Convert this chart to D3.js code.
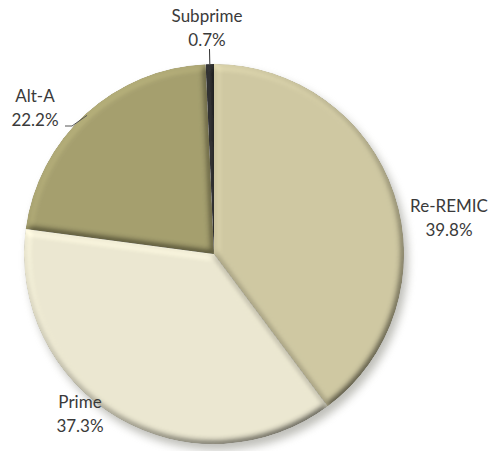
<!DOCTYPE html>
<html>
<head>
<meta charset="utf-8">
<script src="https://cdn.jsdelivr.net/npm/d3@7"></script>
<style>
  body { margin: 0; background: #fff; }
  text { font-family: Lato, "Open Sans", sans-serif; fill: #3a3a3a; }
</style>
</head>
<body>
<div id="chart"></div>
<script>
const categories = ["Re-REMIC", "Prime", "Alt-A", "Subprime"];
const shares = [39.8, 37.3, 22.2, 0.7];
const sliceColors = ["#cbc49d", "#e8e4cd", "#a09a66", "#111111"];

// label anchor points (text centre, first baseline) picked to match layout
const labelSpots = {
  "Re-REMIC": [449, 212],
  "Prime": [80, 408],
  "Alt-A": [35, 102],
  "Subprime": [207, 22]
};

const width = 492, height = 451;
const cx = 214, cy = 254, radius = 190;

const svg = d3.select("#chart")
  .append("svg")
  .attr("width", width)
  .attr("height", height);

const defs = svg.append("defs");

const shadow = defs.append("filter")
  .attr("id", "shadow")
  .attr("x", "-20%").attr("y", "-20%")
  .attr("width", "140%").attr("height", "140%");
shadow.append("feGaussianBlur").attr("stdDeviation", 4);

const bevel = defs.append("filter")
  .attr("id", "bevel")
  .attr("x", "-10%").attr("y", "-10%")
  .attr("width", "120%").attr("height", "120%");
bevel.append("feGaussianBlur")
  .attr("in", "SourceAlpha")
  .attr("stdDeviation", 3.5)
  .attr("result", "blur");
bevel.append("feDiffuseLighting")
  .attr("in", "blur")
  .attr("surfaceScale", 5)
  .attr("diffuseConstant", 1)
  .attr("lighting-color", "#fff")
  .attr("result", "light")
  .append("feDistantLight")
  .attr("azimuth", 235)
  .attr("elevation", 55);
bevel.append("feComposite")
  .attr("in", "SourceGraphic")
  .attr("in2", "light")
  .attr("operator", "arithmetic")
  .attr("k1", 1.1)
  .attr("k2", 0.1)
  .attr("k3", 0.03)
  .attr("k4", 0)
  .attr("result", "lit");
bevel.append("feComposite")
  .attr("in", "lit")
  .attr("in2", "SourceAlpha")
  .attr("operator", "in");

const data = categories.map((c, i) => ({ category: c, share: shares[i], color: sliceColors[i] }));

const pie = d3.pie()
  .sort(null)
  .value(d => d.share);

const arc = d3.arc()
  .innerRadius(0)
  .outerRadius(radius);

const g = svg.append("g")
  .attr("transform", `translate(${cx},${cy})`);

g.append("circle")
  .attr("cx", 4)
  .attr("cy", 6)
  .attr("r", radius)
  .attr("fill", "#8a8a80")
  .attr("opacity", 0.55)
  .attr("filter", "url(#shadow)");

const arcs = pie(data);

g.selectAll("path.slice")
  .data(arcs)
  .enter()
  .append("path")
  .attr("class", "slice")
  .attr("d", arc)
  .attr("fill", d => d.data.color)
  .attr("filter", "url(#bevel)");

// leader lines for the small outside labels
const fmt = d3.format(".1f");
const subArc = arcs.find(d => d.data.category === "Subprime");
const subMid = (subArc.startAngle + subArc.endAngle) / 2;
g.append("line")
  .attr("x1", Math.sin(subMid) * radius)
  .attr("y1", -Math.cos(subMid) * radius)
  .attr("x2", Math.sin(subMid) * (radius + 15))
  .attr("y2", -Math.cos(subMid) * (radius + 15))
  .attr("stroke", "#333")
  .attr("stroke-width", 1);

const altArc = arcs.find(d => d.data.category === "Alt-A");
const altMid = (altArc.startAngle + altArc.endAngle) / 2;
g.append("polyline")
  .attr("points", [
    [65 - cx, 126 - cy],
    [72 - cx, 126 - cy],
    [Math.sin(altMid) * (radius - 2), -Math.cos(altMid) * (radius - 2)]
  ].map(p => p.join(",")).join(" "))
  .attr("fill", "none")
  .attr("stroke", "#555")
  .attr("stroke-width", 1);

const labels = svg.selectAll("text.label")
  .data(arcs)
  .enter()
  .append("text")
  .attr("class", "label")
  .attr("text-anchor", "middle")
  .attr("font-size", 17)
  .attr("x", d => labelSpots[d.data.category][0])
  .attr("y", d => labelSpots[d.data.category][1]);

labels.append("tspan")
  .attr("x", d => labelSpots[d.data.category][0])
  .text(d => d.data.category);
labels.append("tspan")
  .attr("x", d => labelSpots[d.data.category][0])
  .attr("dy", 24)
  .text(d => fmt(d.data.share) + "%");
</script>
</body>
</html>
